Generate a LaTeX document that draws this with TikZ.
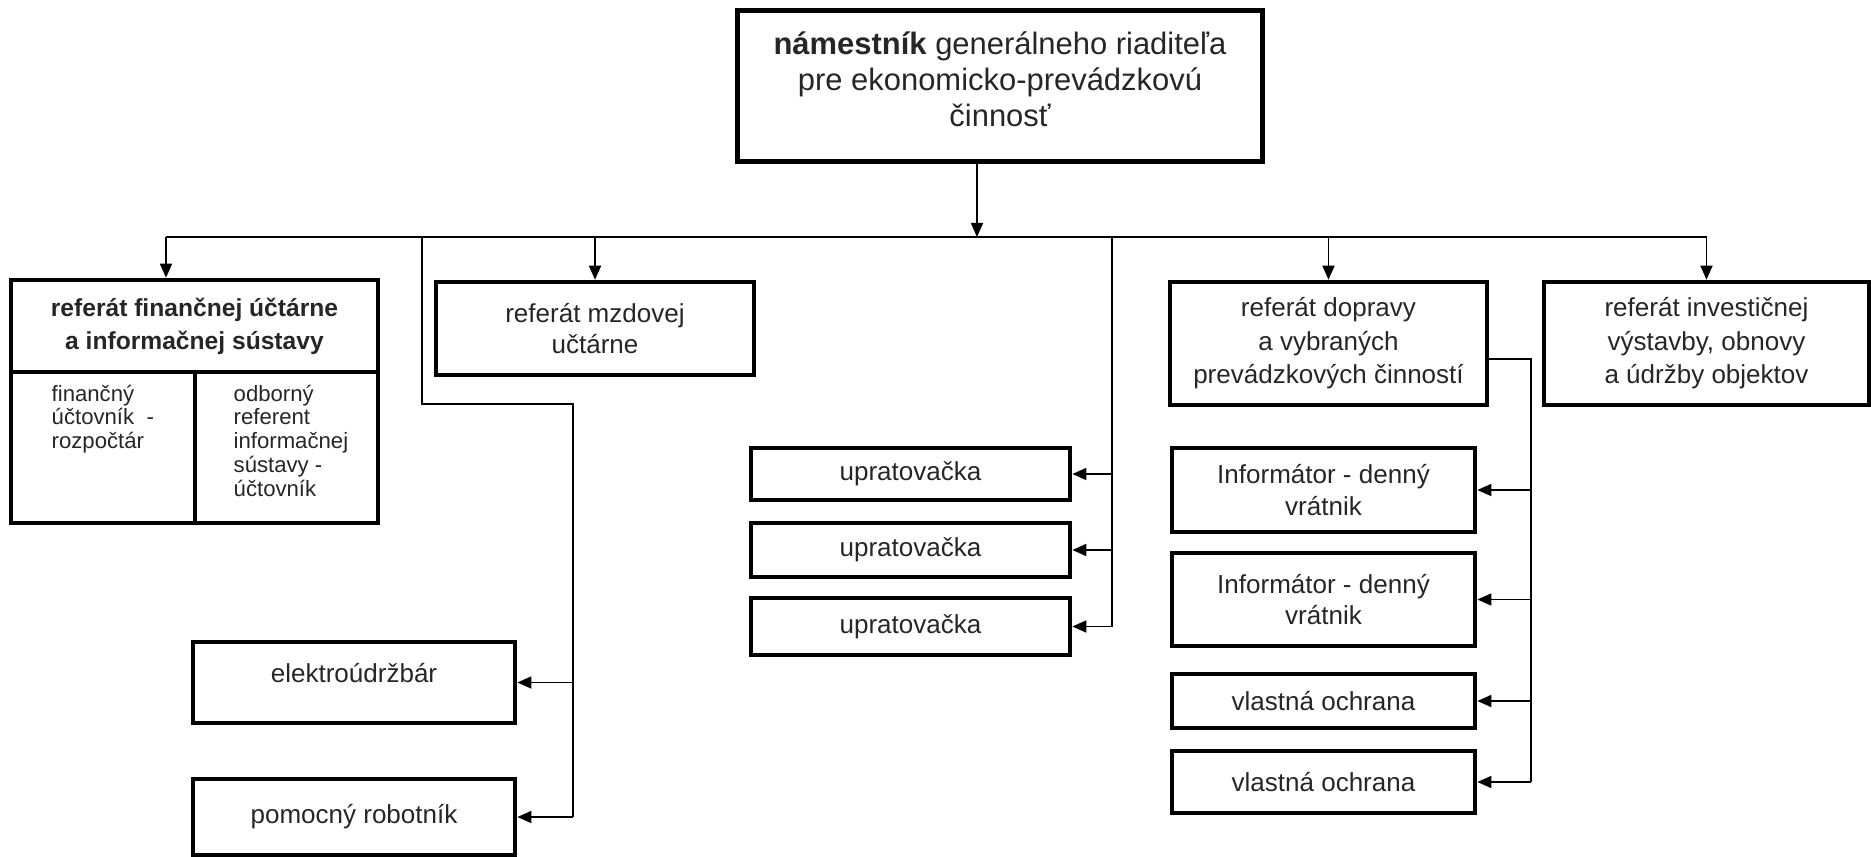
\documentclass[tikz,border=0pt]{standalone}
\usepackage{fontspec}
\setmainfont{Liberation Sans}
\usetikzlibrary{arrows.meta}
\usetikzlibrary{calc}

\begin{document}
\begin{tikzpicture}[x=0.01cm, y=-0.01cm,
    box/.style={draw, line width=1.3pt, align=center, inner sep=0pt,
      text=black!85, font=\fontsize{7.4}{9}\selectfont},
    boxtext/.style={align=center, inner sep=0pt, text=black!85},
    celltext/.style={align=left, inner sep=0pt, text=black!85,
      font=\fontsize{6.3}{6.8}\selectfont},
    conn/.style={line width=0.5pt},
    arr/.style={conn, -{Triangle[length=1.4mm, width=1.2mm]}}]
  \useasboundingbox (0, 0) rectangle (1871, 857);

  \node[box, minimum width=5.25cm, minimum height=1.51cm] (top) at (1000, 86) {};
  \node[boxtext, font=\fontsize{8.8}{10.3}\selectfont] (toptxt) at (1000, 79)
    {\textbf{námestník} generálneho riaditeľa\\pre ekonomicko-prevádzkovú\\činnosť};

  % first row
  \node[box, minimum width=3.67cm, minimum height=0.92cm,
    font=\bfseries\fontsize{7}{9.4}\selectfont] (fin) at (194.5, 326)
    {referát finančnej účtárne\\a informačnej sústavy};
  \node[box, minimum width=1.84cm, minimum height=1.51cm] (fin1) at (103, 447.5) {};
  \node[box, minimum width=1.83cm, minimum height=1.51cm] (fin2) at (286.5, 447.5) {};
  \node[celltext, anchor=north west] (fin1t) at (51, 384) {finančný\\účtovník~ -\\rozpočtár};
  \node[celltext, anchor=north west] (fin2t) at (233, 384) {odborný\\referent\\informačnej\\sústavy -\\účtovník};
  \node[box, minimum width=3.18cm, minimum height=0.93cm] (mzd) at (595, 328.5) {referát mzdovej\\učtárne};
  \node[box, minimum width=3.17cm, minimum height=1.23cm,
    font=\fontsize{7.4}{9.5}\selectfont] (dop) at (1328.5, 343.5)
    {referát dopravy\\a vybraných\\prevádzkových činností};
  \node[box, minimum width=3.25cm, minimum height=1.23cm,
    font=\fontsize{7.4}{9.5}\selectfont] (inv) at (1706.5, 343.5)
    {referát investičnej\\výstavby, obnovy\\a údržby objektov};

  % lower boxes
  \node[box, minimum width=3.22cm, minimum height=0.81cm, text depth=0.2cm] (ele) at (354, 682.5) {elektroúdržbár};
  \node[box, minimum width=3.22cm, minimum height=0.76cm] (pom) at (354, 817) {pomocný robotník};
  \node[box, minimum width=3.19cm, minimum height=0.52cm] (upr1) at (910.5, 474) {upratovačka};
  \node[box, minimum width=3.19cm, minimum height=0.54cm] (upr2) at (910.5, 550) {upratovačka};
  \node[box, minimum width=3.19cm, minimum height=0.57cm] (upr3) at (910.5, 626.5) {upratovačka};
  \node[box, minimum width=3.03cm, minimum height=0.84cm] (inf1) at (1323.5, 490) {Informátor - denný\\vrátnik};
  \node[box, minimum width=3.03cm, minimum height=0.93cm] (inf2) at (1323.5, 599.5) {Informátor - denný\\vrátnik};
  \node[box, minimum width=3.03cm, minimum height=0.54cm] (vo1) at (1323.5, 701) {vlastná ochrana};
  \node[box, minimum width=3.03cm, minimum height=0.62cm] (vo2) at (1323.5, 782) {vlastná ochrana};

  % connectors
  \coordinate (bus) at (977, 237);
  \coordinate (busL) at (166, 237);
  \coordinate (busR) at (1707, 237);
  \draw[arr] (bus |- top.south) -- (bus);
  \draw[conn] (busL) -- (busR);
  \draw[arr] (busL) -- (busL |- fin.north);
  \draw[arr] (mzd.north |- bus) -- (mzd);
  \draw[arr] (dop.north |- bus) -- (dop);
  \draw[arr] (inv.north |- bus) -- (inv);

  \coordinate (udr) at (422, 237);
  \coordinate (udrK) at (422, 404);
  \coordinate (udrV) at (573, 404);
  \draw[conn] (udr) -- (udrK) -- (udrV) -- (udrV |- pom.east);
  \draw[arr] (udrV |- ele.east) -- (ele.east);
  \draw[arr] (udrV |- pom.east) -- (pom.east);

  \coordinate (upr) at (1112, 237);
  \draw[conn] (upr) -- (upr |- upr3.east);
  \foreach \n in {upr1, upr2, upr3}
    \draw[arr] (upr |- \n.east) -- (\n.east);

  \coordinate (dopV) at (1531, 359);
  \draw[conn] (dop.east |- dopV) -- (dopV) -- (dopV |- vo2.east);
  \foreach \n in {inf1, inf2, vo1, vo2}
    \draw[arr] (dopV |- \n.east) -- (\n.east);
\end{tikzpicture}
\end{document}
